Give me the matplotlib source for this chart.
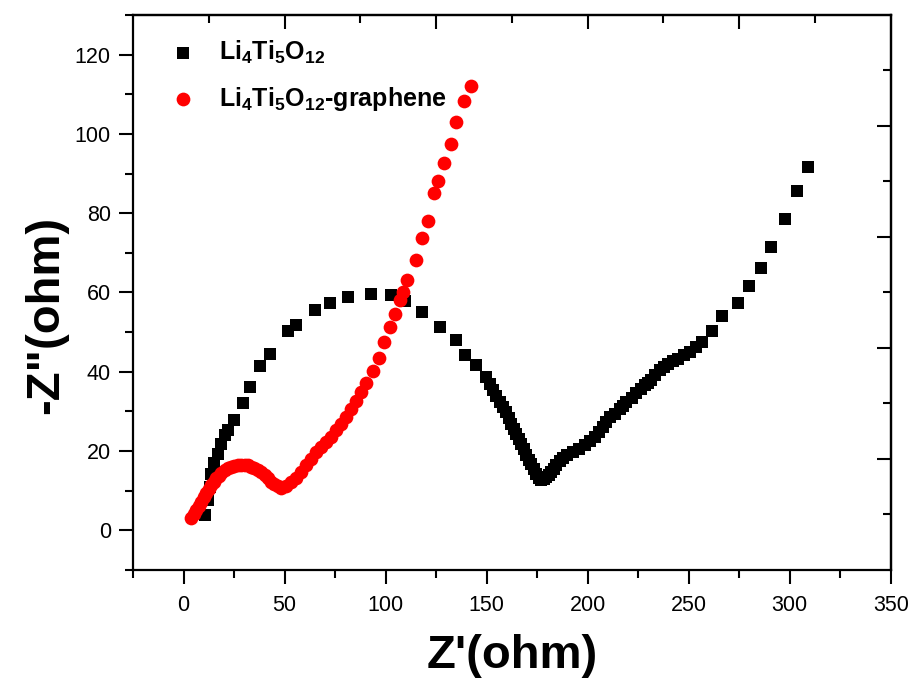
import matplotlib
matplotlib.use('Agg')
import matplotlib.pyplot as plt
from matplotlib.ticker import MultipleLocator, FixedLocator, NullFormatter

# Nyquist data: Z' and -Z'' in ohm
lto_x = [10.4, 12.0, 12.9, 13.7, 15.3, 17.0, 18.7, 20.3, 21.9, 25.2,
         29.4, 32.7, 37.6, 42.9, 51.6, 55.8, 64.9, 72.3, 81.3, 92.9,
         102.8, 109.8, 118.2, 127.1, 135.0, 139.1, 144.6, 149.5, 151.5, 153.1,
         154.8, 156.4, 158.0, 159.7, 161.0, 162.2, 163.5, 164.7, 166.0, 167.2,
         168.5, 169.7, 171.0, 172.1, 173.4, 174.6, 176.0, 177.1, 178.3, 179.6,
         180.8, 182.0, 183.3, 184.5, 186.2, 187.8, 190.0, 192.7, 195.5, 198.5,
         201.0, 203.5, 205.5, 207.6, 209.2, 210.9, 213.3, 215.8, 217.5, 219.2,
         221.7, 224.1, 226.2, 228.2, 230.0, 231.5, 233.5, 235.6, 237.7, 239.8,
         242.2, 244.7, 247.6, 250.5, 253.6, 256.8, 261.7, 266.7, 274.4, 279.7,
         286.0, 290.9, 297.5, 303.8, 309.1]
lto_y = [3.8, 7.6, 10.9, 14.2, 16.9, 19.3, 21.8, 24.0, 25.3, 27.8,
         32.0, 36.2, 41.4, 44.5, 50.3, 51.8, 55.6, 57.4, 58.9, 59.7,
         59.4, 57.8, 55.0, 51.2, 48.0, 44.2, 41.7, 38.7, 37.0, 35.4,
         33.9, 32.4, 31.2, 29.9, 28.4, 26.9, 25.6, 24.4, 23.1, 21.9,
         20.4, 18.9, 17.8, 16.8, 15.5, 14.2, 13.3, 12.6, 12.9, 13.5,
         14.0, 14.7, 15.5, 16.4, 17.4, 18.3, 18.9, 19.8, 20.6, 21.5,
         22.6, 23.6, 24.8, 26.1, 27.3, 28.6, 29.4, 30.5, 31.4, 32.4,
         33.4, 34.7, 35.6, 36.6, 37.2, 37.9, 39.2, 40.4, 41.2, 42.0,
         42.7, 43.3, 44.2, 45.0, 46.2, 47.5, 50.3, 54.0, 57.4, 61.6,
         66.3, 71.4, 78.5, 85.6, 91.7]

ltog_x = [3.8, 5.0, 6.3, 7.5, 8.8, 10.0, 11.2, 12.5, 13.7, 15.0,
          16.2, 17.5, 18.7, 20.3, 21.9, 23.5, 25.2, 26.9, 28.6, 30.2,
          31.8, 33.5, 35.1, 36.8, 38.5, 40.1, 41.7, 43.4, 45.0, 46.7,
          48.4, 50.8, 53.3, 55.8, 58.3, 60.7, 63.2, 65.7, 68.2, 70.6,
          73.1, 75.6, 78.1, 80.5, 83.0, 85.5, 88.0, 90.4, 93.7, 96.5,
          99.0, 102.0, 104.5, 106.9, 108.6, 110.6, 114.9, 118.2, 121.0, 123.9,
          125.9, 128.9, 132.5, 135.0, 138.6, 142.4]
ltog_y = [3.0, 4.1, 5.1, 6.2, 7.2, 8.3, 9.3, 10.4, 11.4, 12.3,
          13.1, 13.8, 14.5, 15.1, 15.7, 16.0, 16.3, 16.4, 16.5, 16.5,
          16.4, 16.1, 15.8, 15.3, 14.7, 13.9, 13.1, 12.3, 11.6, 11.1,
          10.8, 11.1, 12.2, 13.3, 14.7, 16.4, 18.1, 19.8, 21.0, 22.3,
          23.6, 25.3, 26.9, 28.6, 30.7, 32.7, 35.0, 37.1, 40.1, 43.6,
          47.6, 51.3, 54.6, 58.1, 60.2, 63.1, 68.2, 73.8, 78.0, 85.0,
          88.0, 92.6, 97.4, 102.9, 108.2, 112.1]

labels = [r'Li$_4$Ti$_5$O$_{12}$', r'Li$_4$Ti$_5$O$_{12}$-graphene']

plt.rcParams['font.family'] = ['Liberation Sans', 'DejaVu Sans']
plt.rcParams['mathtext.fontset'] = 'custom'
plt.rcParams['mathtext.rm'] = 'Liberation Sans:bold'
plt.rcParams['mathtext.it'] = 'Liberation Sans:bold'
plt.rcParams['mathtext.bf'] = 'Liberation Sans:bold'
plt.rcParams['mathtext.default'] = 'rm'

fig = plt.figure(figsize=(9.13, 6.81), dpi=100)
ax = fig.add_axes([0.1457, 0.163, 0.830, 0.815])

ax.scatter(lto_x, lto_y, marker='s', s=68, color='black', linewidths=0, label=labels[0])
ax.scatter(ltog_x, ltog_y, marker='o', s=98, color='red', linewidths=0, label=labels[1])

ax.set_xlim(-25, 350)
ax.set_ylim(-10, 130)

ax.xaxis.set_major_locator(MultipleLocator(50))
ax.xaxis.set_minor_locator(MultipleLocator(25))
ax.yaxis.set_major_locator(MultipleLocator(20))
ax.yaxis.set_minor_locator(MultipleLocator(10))
ax.set_xticks([0, 50, 100, 150, 200, 250, 300, 350])
ax.set_yticks([0, 20, 40, 60, 80, 100, 120])

ax.tick_params(which='major', direction='out', length=10, width=1.5, labelsize=15.5)
ax.tick_params(which='minor', direction='out', length=6, width=1.5)
ax.tick_params(axis='x', which='major', pad=8)
ax.tick_params(axis='y', which='major', pad=6)
for sp in ax.spines.values():
    sp.set_linewidth(1.6)

# top / right axes with Origin-style ticks
top = ax.secondary_xaxis('top')
top.xaxis.set_major_locator(FixedLocator([50, 125, 200, 275]))
top.xaxis.set_minor_locator(FixedLocator([12.5, 87.5, 162.5, 237.5, 312.5]))
top.xaxis.set_major_formatter(NullFormatter())
top.tick_params(which='major', direction='in', length=10, width=1.5)
top.tick_params(which='minor', direction='in', length=6, width=1.5)
top.spines['top'].set_linewidth(1.6)

right = ax.secondary_yaxis('right')
right.yaxis.set_major_locator(FixedLocator([18, 46, 74, 102]))
right.yaxis.set_minor_locator(FixedLocator([4, 32, 60, 88, 116]))
right.yaxis.set_major_formatter(NullFormatter())
right.tick_params(which='major', direction='in', length=10, width=1.5)
right.tick_params(which='minor', direction='in', length=6, width=1.5)
right.spines['right'].set_linewidth(1.6)

ax.set_xlabel("Z'(ohm)", fontsize=34, fontweight='bold')
ax.set_ylabel('-Z"(ohm)', fontsize=34, fontweight='bold')
ax.xaxis.set_label_coords(0.5, -0.115)
ax.yaxis.set_label_coords(-0.085, 0.46)

ax.legend(loc='upper left', bbox_to_anchor=(0.003, 0.998), frameon=False,
          prop={'weight': 'bold', 'size': 18}, handletextpad=0.45,
          labelspacing=0.75, markerscale=1.0)

fig.savefig('out.png', dpi=100)
